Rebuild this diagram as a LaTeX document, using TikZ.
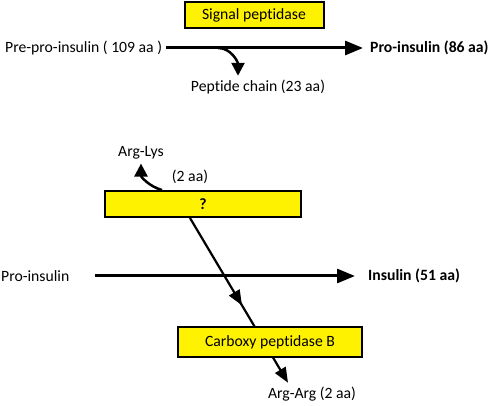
\documentclass[tikz,border=0pt]{standalone}
\usepackage{fontspec}
\setmainfont{Carlito}[Ligatures=NoCommon]
\usetikzlibrary{arrows.meta,positioning,calc,backgrounds,decorations.markings}
\newcommand{\fs}{\fontsize{15.7}{18}\selectfont}

\begin{document}
\begin{tikzpicture}[x=1pt, y=-1pt,
  font=\fs,
  enz/.style={draw=black, line width=2pt, fill=yellow, inner sep=0pt,
              minimum height=26pt},
  txt/.style={inner sep=4pt},
  bold/.style={txt, font=\fs\bfseries},
  big/.style={-{Triangle[length=18pt, width=14pt]}, line width=3pt},
  cut/.style={-{Triangle[length=13pt, width=13pt]}, line width=2.5pt},
  mid/.style={line width=2.2pt, -{Triangle[length=15pt, width=12pt]},
              postaction={decorate}, decoration={markings,
              mark=at position 0.53 with {\arrow{Triangle[length=15pt, width=12pt]}}}}]
\useasboundingbox (0,0) rectangle (491,406);

% signal peptidase step
\node[enz, minimum width=139pt] (sp) at (254,15) {Signal peptidase};
\node[txt, anchor=west] (prepro) at (1,48) {Pre-pro-insulin ( 109 aa )};
\node[bold, anchor=west] (pro86) at (366,48) {Pro-insulin (86 aa)};
\node[txt] (chain) at (258,87) {Peptide chain (23 aa)};

\coordinate (split) at ($(prepro.east)!0.26!(pro86.west)$);
\draw[big] (prepro.east) -- ([xshift=-3pt]pro86.west);
\draw[cut] (split) to[out=0, in=90] ([xshift=-20pt]chain.north);

% conversion to insulin
\node[enz, minimum width=196pt, font=\fs\bfseries] (q) at (203,204) {?};
\node[txt] (arglys) at (141,153) {Arg-Lys};
\node[txt] (twoaa) at (190,177) {(2 aa)};
\draw[cut] ([xshift=-41pt]q.north) to[out=165, in=-90] (arglys.south);

\node[txt, anchor=west] (pro) at (-3,276) {Pro-insulin};
\node[bold, anchor=west] (ins) at (364,276) {Insulin (51 aa)};
\draw[big] ([xshift=21pt]pro.east) -- ([xshift=-9pt]ins.west);

\node[enz, minimum width=184pt, minimum height=30pt] (cb) at (270,342)
      {Carboxy peptidase B};
\node[txt] (argarg) at (312,394) {Arg-Arg (2 aa)};

\begin{scope}[on background layer]
\draw[mid] ([xshift=-13pt]q.south) -- ([xshift=-24pt]argarg.north);
\end{scope}
\end{tikzpicture}
\end{document}
